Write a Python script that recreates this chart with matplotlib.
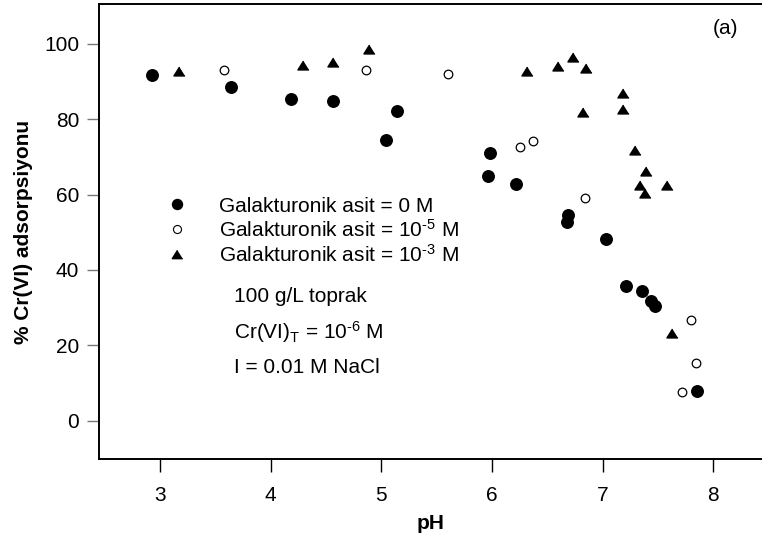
import numpy as np
import matplotlib
matplotlib.use("Agg")
import matplotlib.pyplot as plt
from matplotlib.lines import Line2D

plt.rcParams['font.family'] = ['Liberation Sans', 'DejaVu Sans']
plt.rcParams['mathtext.fontset'] = 'custom'
plt.rcParams['mathtext.rm'] = 'Liberation Sans'
plt.rcParams['mathtext.it'] = 'Liberation Sans:italic'
plt.rcParams['mathtext.bf'] = 'Liberation Sans:bold'

# galakturonik asit = 0 M
ph_0 = [2.93, 3.64, 4.18, 4.56, 5.04, 5.14, 5.96, 5.98, 6.22, 6.68, 6.69,
        7.03, 7.21, 7.36, 7.44, 7.47, 7.85]
ads_0 = [91.8, 88.5, 85.4, 84.9, 74.5, 82.1, 65.0, 71.0, 62.8, 52.6, 54.6,
         48.2, 35.6, 34.4, 31.8, 30.4, 7.8]

# galakturonik asit = 1e-5 M
ph_5 = [3.58, 4.86, 5.60, 6.25, 6.37, 6.84, 7.72, 7.80, 7.84]
ads_5 = [93.0, 93.0, 92.0, 72.7, 74.2, 59.0, 7.6, 26.6, 15.3]

# galakturonik asit = 1e-3 M
ph_3 = [3.17, 4.29, 4.56, 4.89, 6.32, 6.60, 6.73, 6.82, 6.85, 7.18, 7.18,
        7.29, 7.34, 7.38, 7.39, 7.58, 7.63]
ads_3 = [92.8, 94.4, 95.3, 98.6, 92.7, 94.0, 96.6, 81.9, 93.7, 86.9, 82.8,
         71.9, 62.6, 60.5, 66.3, 62.4, 23.2]

x_ticks = [3, 4, 5, 6, 7, 8]
y_ticks = [0, 20, 40, 60, 80, 100]

labels = ['Galakturonik asit = 0 M',
          'Galakturonik asit = 10$^{\\text{-5}}$ M',
          'Galakturonik asit = 10$^{\\text{-3}}$ M']

tri = [(0, 0.8), (-1, -0.8), (1, -0.8)]

fig = plt.figure(figsize=(7.62, 5.44), dpi=100)
ax = fig.add_axes([0.1295, 0.1557, 0.8705, 0.837])

ax.plot(ph_0, ads_0, 'o', ms=8.3, color='black', ls='none')
ax.plot(ph_5, ads_5, 'o', ms=6.2, mfc='white', mec='black', mew=0.9, ls='none')
ax.plot(ph_3, ads_3, marker=tri, ms=8, color='black', ls='none')

ax.set_xlim(2.446, 8.44)
ax.set_ylim(-10.3, 110.6)
ax.set_xticks(x_ticks)
ax.set_yticks(y_ticks)

for s in ['left', 'bottom', 'top']:
    ax.spines[s].set_linewidth(1.4)
ax.spines['right'].set_visible(False)

ax.tick_params(axis='both', direction='out', length=9, width=1, labelsize=15)
ax.tick_params(axis='x', pad=10)
ax.tick_params(axis='y', pad=5, color='#777777')

ax.set_xlabel('pH', fontsize=15, fontweight='bold', labelpad=7)
ax.set_ylabel('% Cr(VI) adsorpsiyonu', fontsize=15, fontweight='bold', labelpad=8)

handles = [
    Line2D([], [], marker='o', ms=7.2, color='black', ls='none'),
    Line2D([], [], marker='o', ms=5.8, mfc='white', mec='black', mew=0.8, ls='none'),
    Line2D([], [], marker=tri, ms=7.5, color='black', ls='none'),
]
ax.legend(handles, labels, loc='upper left', bbox_to_anchor=(0.1024, 0.577),
          frameon=False, fontsize=15, handlelength=1.0, handletextpad=1.5,
          labelspacing=0.15, borderpad=0, borderaxespad=0)

ax.text(0.204, 0.3565, '100 g/L toprak', transform=ax.transAxes, fontsize=15,
        va='center', ha='left')
ax.text(0.204, 0.2796, 'Cr(VI)$_\\mathregular{T}$ = 10$^{\\text{-6}}$ M',
        transform=ax.transAxes, fontsize=15, va='center', ha='left')
ax.text(0.204, 0.2027, 'I = 0.01 M NaCl', transform=ax.transAxes, fontsize=15,
        va='center', ha='left')

ax.text(0.945, 0.946, '(a)', transform=ax.transAxes, fontsize=15,
        va='center', ha='center')

fig.savefig('out.png', dpi=100)
